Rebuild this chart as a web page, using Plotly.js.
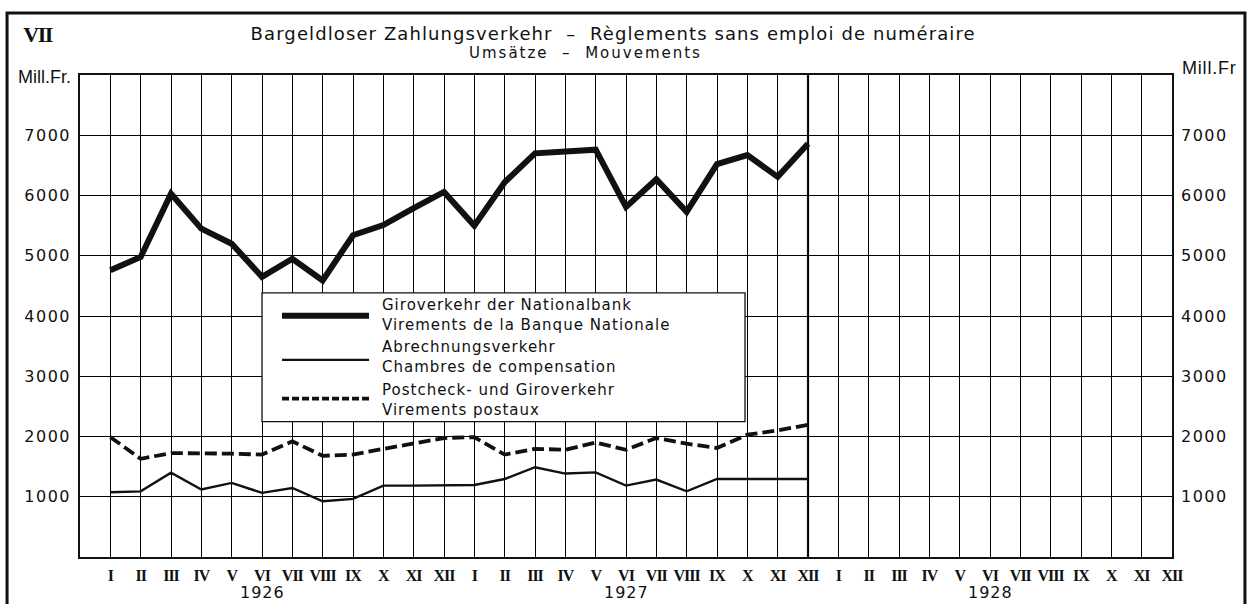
<!DOCTYPE html>
<html>
<head>
<meta charset="utf-8">
<script src="https://cdn.plot.ly/plotly-3.0.1.min.js"></script>
<style>
html, body { margin: 0; padding: 0; background: #fff; }
#chart { width: 1253px; height: 604px; }
</style>
</head>
<body>
<div id="chart"></div>
<script>
// ---- data ----
const monthLabels = ['I','II','III','IV','V','VI','VII','VIII','IX','X','XI','XII'];
const years = ['1926', '1927', '1928'];
const tickLabels = [].concat(monthLabels, monthLabels, monthLabels);
const yTicks = [1000, 2000, 3000, 4000, 5000, 6000, 7000];

// Giroverkehr der Nationalbank (Mill. Fr.), Jan 1926 - Dec 1927
const giroNationalbank = [4760, 4980, 6030, 5450, 5200, 4650, 4950, 4590, 5340, 5510, 5790, 6060,
                          5500, 6220, 6700, 6720, 6760, 5810, 6270, 5730, 6520, 6670, 6310, 6860];
// Abrechnungsverkehr
const abrechnung = [1075, 1090, 1400, 1120, 1230, 1065, 1145, 925, 965, 1185, 1185, 1185,
                    1195, 1295, 1490, 1385, 1405, 1185, 1285, 1090, 1295, 1295, 1295, 1295];
// Postcheck- und Giroverkehr
const postcheck = [1990, 1630, 1725, 1725, 1715, 1700, 1920, 1680, 1700, 1795, 1880, 1975,
                   1990, 1700, 1795, 1780, 1900, 1780, 1975, 1880, 1810, 2030, 2100, 2195];

const legendRows = [
  ['Giroverkehr der Nationalbank', 'Virements de la Banque Nationale'],
  ['Abrechnungsverkehr', 'Chambres de compensation'],
  ['Postcheck- und Giroverkehr', 'Virements postaux']
];

// ---- build ----
const idx = tickLabels.map((_, i) => i);
const xData = giroNationalbank.map((_, i) => i);
const INK = '#111';

const styles = [
  {width: 6, dash: 'solid'},
  {width: 2.4, dash: 'solid'},
  {width: 3.8, dash: '12px,5px'}
];

const traces = [
  {x: xData, y: giroNationalbank, type: 'scatter', mode: 'lines', line: {color: INK, width: styles[0].width, dash: styles[0].dash}, hoverinfo: 'skip'},
  {x: xData, y: abrechnung, type: 'scatter', mode: 'lines', line: {color: INK, width: styles[1].width, dash: styles[1].dash}, hoverinfo: 'skip'},
  {x: xData, y: postcheck, type: 'scatter', mode: 'lines', line: {color: INK, width: styles[2].width, dash: styles[2].dash}, hoverinfo: 'skip'},
  // carrier for right-hand axis
  {x: xData, y: abrechnung, type: 'scatter', mode: 'lines', yaxis: 'y2', opacity: 0, line: {width: 1}, hoverinfo: 'skip'}
];

const numFont = {family: 'DejaVu Sans', size: 16, color: INK};

const annotations = [];
const spacing = []; // letter spacing per annotation index
function addAnn(a, ls) { annotations.push(a); spacing.push(ls || 0); }

// years
years.forEach((yr, k) => {
  addAnn({x: k * 12 + 5, y: -0.074, xref: 'x', yref: 'paper', text: yr, showarrow: false,
    font: {family: 'DejaVu Sans', size: 16, color: INK}, xanchor: 'center', yanchor: 'middle'}, 1);
});
// titles and labels
addAnn({x: 0.488, y: 1.087, xref: 'paper', yref: 'paper', text: 'Bargeldloser Zahlungsverkehr  –  Règlements sans emploi de numéraire',
  showarrow: false, font: {family: 'DejaVu Sans', size: 18, color: INK}, xanchor: 'center', yanchor: 'middle'}, 1.1);
addAnn({x: 0.4625, y: 1.046, xref: 'paper', yref: 'paper', text: 'Umsätze  –  Mouvements',
  showarrow: false, font: {family: 'DejaVu Sans', size: 15, color: INK}, xanchor: 'center', yanchor: 'middle'}, 2);
addAnn({x: -0.0385, y: 1.085, xref: 'paper', yref: 'paper', text: '<b>VII</b>',
  showarrow: false, font: {family: 'Liberation Serif', size: 22, color: INK}, xanchor: 'center', yanchor: 'middle'}, -1.5);
addAnn({x: -0.0065, y: 0.996, xref: 'paper', yref: 'paper', text: 'Mill.Fr.',
  showarrow: false, font: {family: 'Liberation Sans Narrow, Liberation Sans', size: 18, color: INK}, xanchor: 'right', yanchor: 'middle', align: 'right'}, 0);
addAnn({x: 1.007, y: 1.014, xref: 'paper', yref: 'paper', text: 'Mill.Fr',
  showarrow: false, font: {family: 'Liberation Sans Narrow, Liberation Sans', size: 18, color: INK}, xanchor: 'left', yanchor: 'middle', align: 'left'}, 0.8);

// legend (drawn manually)
const legX0 = 0.1667, legX1 = 0.609, legY0 = 0.281, legY1 = 0.548;
const sampleX0 = 0.185, sampleX1 = 0.2647;
const sampleY = [0.5005, 0.409, 0.3285];
const textY = [[0.523, 0.482], [0.436, 0.395], [0.347, 0.306]];
const shapes = [
  {type: 'rect', xref: 'paper', yref: 'paper', x0: legX0, x1: legX1, y0: legY0, y1: legY1,
   fillcolor: '#fff', line: {color: INK, width: 1.3}, layer: 'above'}
];
legendRows.forEach((rows, k) => {
  shapes.push({type: 'line', xref: 'paper', yref: 'paper', x0: sampleX0, x1: sampleX1, y0: sampleY[k], y1: sampleY[k],
    line: {color: INK, width: styles[k].width, dash: k === 2 ? '7px,3px' : 'solid'}, layer: 'above'});
  rows.forEach((t, j) => {
    addAnn({x: 0.2747, y: textY[k][j], xref: 'paper', yref: 'paper', text: t, showarrow: false,
      font: {family: 'DejaVu Sans', size: 15, color: INK}, xanchor: 'left', yanchor: 'middle', align: 'left'}, 1);
  });
});
// heavier divider at end of 1927
shapes.push({type: 'line', xref: 'x', yref: 'paper', x0: 23, x1: 23, y0: 0, y1: 1, line: {color: INK, width: 2.2}, layer: 'below'});
// outer frame
shapes.push({type: 'rect', xref: 'paper', yref: 'paper', x0: -0.0668, x1: 1.0668, y0: -0.12, y1: 1.1285,
  line: {color: INK, width: 3}, fillcolor: 'rgba(0,0,0,0)', layer: 'above'});

const layout = {
  width: 1253, height: 604,
  margin: {l: 80, r: 81, t: 75, b: 46.5, pad: 0},
  paper_bgcolor: '#fff', plot_bgcolor: '#fff',
  showlegend: false,
  xaxis: {
    range: [-1, 35], tickmode: 'array', tickvals: idx, ticktext: tickLabels,
    showgrid: true, gridcolor: '#000', gridwidth: 1,
    showline: true, linecolor: INK, linewidth: 1.8, mirror: true,
    zeroline: false, ticks: '', ticklabelstandoff: 3, tickangle: 0,
    tickfont: {family: 'Liberation Serif', size: 16, color: INK, weight: 'bold'},
    fixedrange: true
  },
  yaxis: {
    range: [0, 8000], tickmode: 'array', tickvals: yTicks, ticktext: yTicks.map(String),
    showgrid: true, gridcolor: '#000', gridwidth: 1,
    showline: true, linecolor: INK, linewidth: 1.8, mirror: true,
    zeroline: false, ticks: '', ticklabelstandoff: 4,
    tickfont: numFont, fixedrange: true
  },
  yaxis2: {
    range: [0, 8000], overlaying: 'y', side: 'right', tickmode: 'array', tickvals: yTicks, ticktext: yTicks.map(String),
    showgrid: false, zeroline: false, showline: false, ticks: '', ticklabelstandoff: 8,
    tickfont: numFont, fixedrange: true
  },
  shapes: shapes,
  annotations: annotations
};

Plotly.newPlot('chart', traces, layout, {displayModeBar: false, staticPlot: true}).then(function (gd) {
  // widen letter spacing to match the printed original
  gd.querySelectorAll('.annotation').forEach(function (g) {
    const i = +g.getAttribute('data-index');
    const t = g.querySelector('text');
    if (t && spacing[i]) t.style.letterSpacing = spacing[i] + 'px';
  });
  gd.querySelectorAll('.ytick text, .y2tick text').forEach(function (t) {
    t.style.letterSpacing = '1.5px';
  });
  gd.querySelectorAll('.xtick text').forEach(function (t) {
    t.style.letterSpacing = '-1px';
  });
});
</script>
</body>
</html>
